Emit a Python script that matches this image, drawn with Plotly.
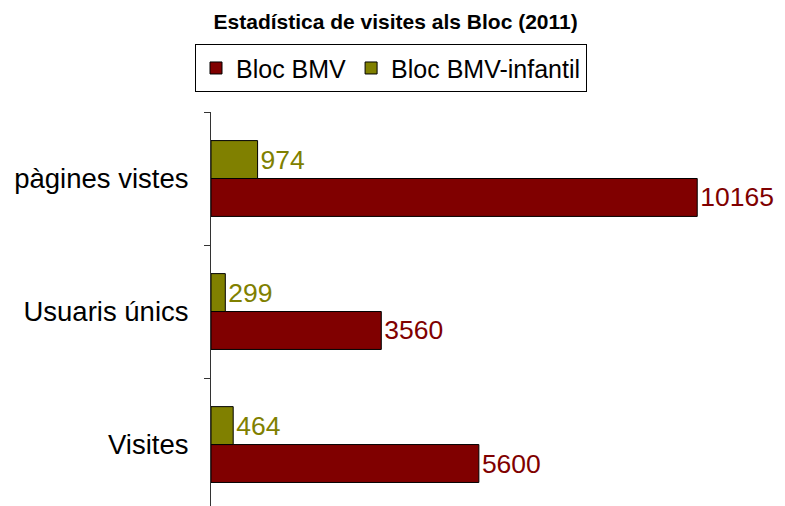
import plotly.graph_objects as go

categories = ["Visites", "Usuaris únics", "pàgines vistes"]
bmv = [5600, 3560, 10165]
infantil = [464, 299, 974]
series_names = ["Bloc BMV", "Bloc BMV-infantil"]

FONT = "Liberation Sans, Arial, sans-serif"
RED = "#800000"
OLIVE = "#808000"

fig = go.Figure()
fig.add_trace(go.Bar(
    y=categories, x=bmv, orientation="h", name=series_names[0],
    marker=dict(color=RED, line=dict(color="#000000", width=1)),
    text=[str(v) for v in bmv], textposition="outside",
    textfont=dict(color=RED, size=26.5, family=FONT), cliponaxis=False,
))
fig.add_trace(go.Bar(
    y=categories, x=infantil, orientation="h", name=series_names[1],
    marker=dict(color=OLIVE, line=dict(color="#000000", width=1)),
    text=[str(v) for v in infantil], textposition="outside",
    textfont=dict(color=OLIVE, size=26.5, family=FONT), cliponaxis=False,
))

fig.update_layout(
    width=785, height=506, autosize=False,
    margin=dict(l=211, r=0, t=112, b=0, autoexpand=False),
    paper_bgcolor="white", plot_bgcolor="white",
    barmode="group", bargap=0.43, bargroupgap=0,
    font=dict(family=FONT, color="#000000"),
    title=dict(text="<b>Estadística de visites als Bloc (2011)</b>",
               x=0.504, xanchor="center", y=0.957, yanchor="middle",
               font=dict(size=21, family=FONT, color="#000000")),
    legend=dict(orientation="h", x=0.3136, xanchor="center", y=1.172, yanchor="top",
                bordercolor="#000000", borderwidth=1, bgcolor="white",
                font=dict(size=25, family=FONT), traceorder="normal",
                itemwidth=30, tracegroupgap=0),
    showlegend=True,
    xaxis=dict(range=[0, 12000], showgrid=False, zeroline=False, showline=False,
               showticklabels=False, ticks="", automargin=False),
    yaxis=dict(type="category", categoryorder="array", categoryarray=categories,
               range=[-0.462, 2.5], showgrid=False, zeroline=False, automargin=False,
               showline=True, linecolor="#333333", linewidth=1,
               ticks="outside", ticklen=6, tickcolor="#333333", tickson="boundaries",
               tickfont=dict(size=27.5, family=FONT, color="#000000"), ticklabelstandoff=16),
)

fig.write_html("out.html", config={"displayModeBar": False},
               post_script="document.body.style.margin='0';document.body.style.overflow='hidden';")
